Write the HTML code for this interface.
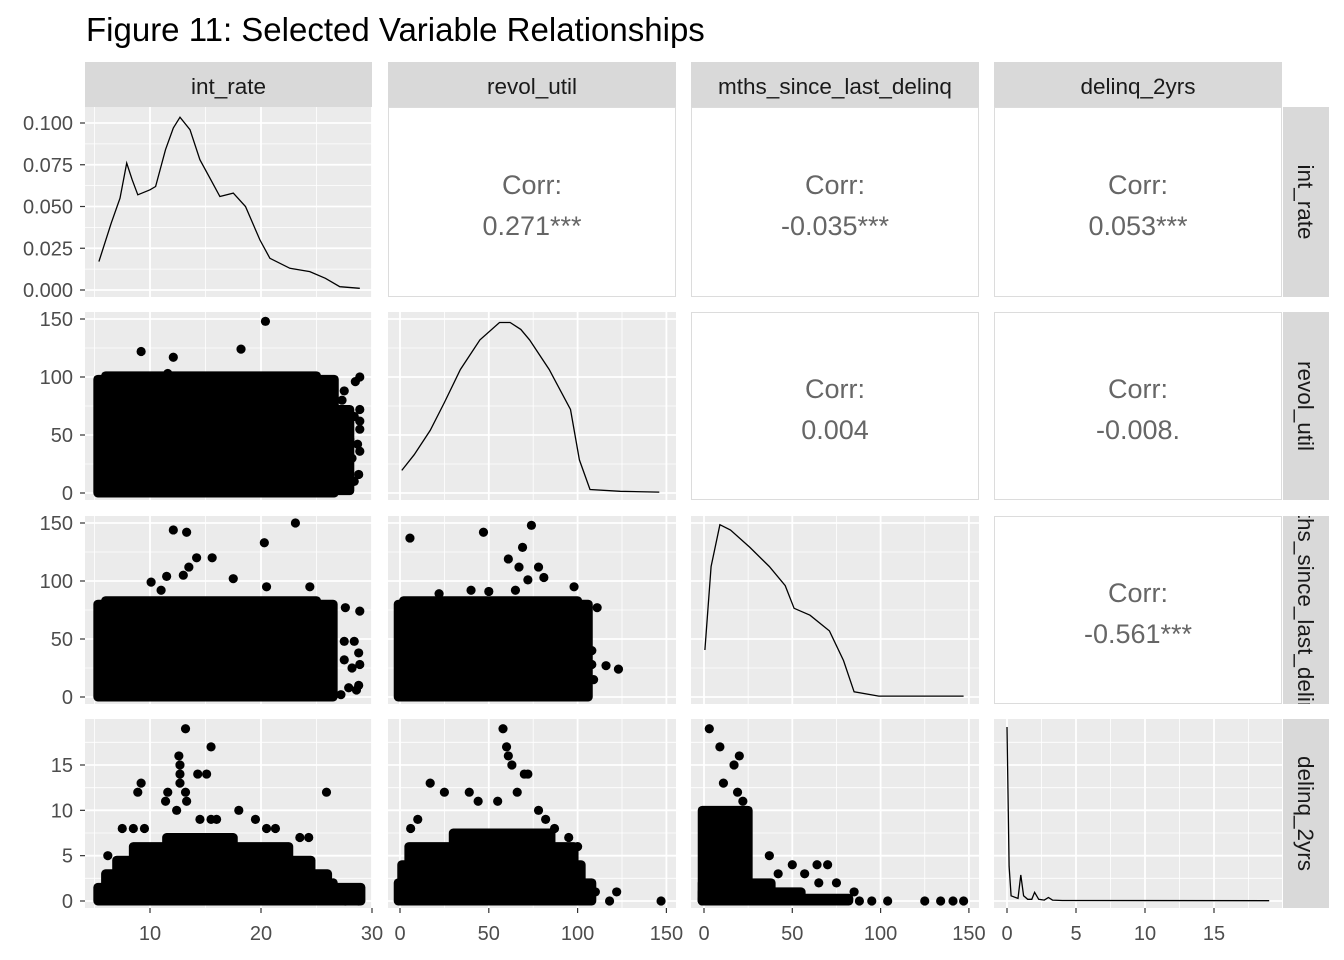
<!DOCTYPE html>
<html><head><meta charset="utf-8">
<style>
html,body{margin:0;padding:0;background:#fff;}
svg{display:block;font-family:"Liberation Sans",Arial,sans-serif;}
</style></head>
<body>
<svg id="chart" width="1344" height="960" viewBox="0 0 1344 960">
<text x="86" y="41" font-size="33" fill="#000">Figure 11: Selected Variable Relationships</text>
<defs>
<clipPath id="stripclip3"><rect x="1283" y="516" width="46" height="188"/></clipPath>
</defs>
</svg>
<script>
// ---------- data ----------
const varNames = ["int_rate","revol_util","mths_since_last_delinq","delinq_2yrs"];
const corrValues = [["0.271***","-0.035***","0.053***"],["0.004","-0.008."],["-0.561***"]];
const densIntX = [5.4,6.5,7.3,7.9,8.4,8.9,10,10.5,11.4,12.1,12.7,13.6,14.5,15.4,16.3,17.5,18.6,19.9,20.8,22.6,24.4,25.8,27.1,28.9];
const densIntY = [0.017,0.040,0.055,0.076,0.066,0.057,0.060,0.062,0.084,0.097,0.1035,0.096,0.078,0.067,0.056,0.058,0.050,0.030,0.019,0.013,0.011,0.007,0.002,0.001];
const densRevX = [1,8,17,25,34,45,56,62,68,73,84,96,101,107,124,146];
const densRevY = [13,22,36,52,71,88,98,98,94,88,71,48,19,2,1,0.5];
const densMthX = [0.5,4,9,15,26,37,46,51,60,71,79,85,99,147];
const densMthY = [27,75,99,96,86,75,64,51,47,38,21,3,0.5,0.5];
const densDelX = [0,0.15,0.3,0.8,1,1.2,1.5,1.8,2,2.3,2.7,3,3.3,4,19];
const densDelY = [100,20,3,1.5,15,3,1,1,5,1,0.5,2,0.5,0.3,0.2];
const blocks21 = [[5.3,26.6,0,98],[6,25,0,101],[26.6,28,2,72]];
const pts21 = [[9.2,122],[12.1,117],[18.2,124],[20.4,148],[11.6,103],[28.9,100],[28.5,96],[27.3,80],[27.5,88],[28.9,72],[28.9,62],[28.4,66],[28.9,55],[28,46],[28.7,42],[28.9,36],[28.2,30],[28.8,16],[28.4,10],[27.6,12],[27.2,4],[26.8,2],[27,20],[26.5,50]];
const blocks31 = [[5.3,26.5,0,80],[6,25,0,83]];
const pts31 = [[12.1,144],[13.3,142],[13,105],[14.2,120],[15.6,120],[13.5,112],[11.5,104],[20.3,133],[23.1,150],[17.5,102],[24.4,95],[20.5,95],[10.1,99],[11,92],[27.6,77],[28.9,74],[28.4,48],[27.5,48],[28.8,38],[28.9,28],[28.2,25],[27.5,32],[28.8,10],[28.6,6],[27.9,8],[27.2,2]];
const blocks41 = [[5.3,29,0,1.5],[6,26,0,3],[7,24.5,0,4.5],[8.5,22.5,0,6],[11.5,17.5,0,7]];
const pts41 = [[13.2,19],[12.6,16],[15.5,17],[12.7,15],[12.7,14],[12.7,13],[14.3,14],[15.1,14],[9.2,13],[11.6,12],[13.2,12],[8.9,12],[11.4,11],[13.3,11],[25.9,12],[12.4,10],[18,10],[19.5,9],[20.5,8],[21.3,8],[23.5,7],[24.3,7],[16,9],[15.5,9],[14.5,9],[7.5,8],[8.5,8],[9.5,8],[6.2,5],[27,1],[28.9,1],[26.5,2],[27.6,0],[28.8,0]];
const blocks32 = [[-1,106,0,80],[2,100,0,83]];
const pts32 = [[5.6,137],[47,142],[74,148],[69,129],[61,119],[67,112],[78,112],[81,103],[72,101],[22,89],[40,92],[50,91],[65,92],[111,77],[108,40],[108,28],[116,27],[123,24],[109,15],[98,95]];
const blocks42 = [[-1,108,0,2],[1,102,0,4],[5,98,0,6],[30,85,0,7.5]];
const pts42 = [[58,19],[60,17],[61,16],[63,15],[70,14],[72,14],[17,13],[25,12],[39,12],[44,11],[55,11],[66,12],[78,10],[82,9],[87,8],[95,7],[100,6],[110,1],[122,1],[147,0],[118,0],[6,8],[10,9]];
const blocks43 = [[-1,25,0,10],[-1,38,0,2],[-1,55,0,1],[-1,82,0,0.3]];
const pts43 = [[3,19],[9,17],[20,16],[17,15],[11,13],[19,12],[22,11],[37,5],[50,4],[64,4],[70,4],[65,2],[75,2],[85,1],[95,0],[104,0],[125,0],[134,0],[141,0],[147,0],[42,3],[57,3],[88,0]];

// ---------- layout ----------
const colPx = [[85,372],[388,676],[691,979],[994,1282]];
const rowPx = [[107,297],[312,500],[516,704],[719,908]];
const xScales = [
  v => 150 + (v-10)*11.1,
  v => 400 + v*1.776,
  v => 704 + v*1.766,
  v => 1007 + v*13.8
];
const yScales = [
  v => 290 - v*1670,
  v => 493 - v*1.16,
  v => 697 - v*1.16,
  v => 901 - v*9.067
];
const densScale = [ v => 290 - v*1670, v => 493 - v*1.74, v => 697 - v*1.74, v => 901 - v*1.74 ];
const xMajor = [[10,20,30],[0,50,100,150],[0,50,100,150],[0,5,10,15]];
const xMinor = [[5,15,25],[25,75,125],[25,75,125],[2.5,7.5,12.5,17.5]];
const yMajor = [[0,0.025,0.05,0.075,0.1],[0,50,100,150],[0,50,100,150],[0,5,10,15]];
const yMinor = [[0.0125,0.0375,0.0625,0.0875],[25,75,125],[25,75,125],[2.5,7.5,12.5,17.5]];
const yTickLabels = [["0.000","0.025","0.050","0.075","0.100"],["0","50","100","150"],["0","50","100","150"],["0","5","10","15"]];
const xTickLabels = [["10","20","30"],["0","50","100","150"],["0","50","100","150"],["0","5","10","15"]];

const NS = "http://www.w3.org/2000/svg";
const svg = document.getElementById("chart");
function mk(tag, attrs, parent){ const e=document.createElementNS(NS,tag); for(const k in attrs) e.setAttribute(k,attrs[k]); (parent||svg).appendChild(e); return e; }

for(let c=0;c<4;c++){
  const g = mk("g",{});
  
  
  mk("rect",{x:colPx[c][0],y:62,width:colPx[c][1]-colPx[c][0],height:45,fill:"#d9d9d9"},g);
  const t = mk("text",{x:(colPx[c][0]+colPx[c][1])/2,y:94,"font-size":22.5,fill:"#1a1a1a","text-anchor":"middle"},g);
  t.textContent = varNames[c];
}
for(let r=0;r<4;r++){
  const g = mk("g",{});
  
  
  if(r===2) g.setAttribute("clip-path","url(#stripclip3)");
  mk("rect",{x:1283,y:rowPx[r][0],width:46,height:rowPx[r][1]-rowPx[r][0],fill:"#d9d9d9"},g);
  const cy=(rowPx[r][0]+rowPx[r][1])/2;
  const t = mk("text",{x:1298,y:cy,"font-size":22.5,fill:"#1a1a1a","text-anchor":"middle",transform:`rotate(90 1298 ${cy})`},g);
  t.textContent = varNames[r];
}

function drawPanelBg(r,c){
  const [x0,x1]=colPx[c],[y0,y1]=rowPx[r];
  const g = mk("g",{});
  
  
  mk("rect",{x:x0,y:y0,width:x1-x0,height:y1-y0,fill:"#ebebeb"},g);
  xMinor[c].forEach(v=>{const x=xScales[c](v); if(x>x0&&x<x1) mk("line",{x1:x,x2:x,y1:y0,y2:y1,stroke:"#fff","stroke-width":0.8},g);});
  yMinor[r].forEach(v=>{const y=yScales[r](v); if(y>y0&&y<y1) mk("line",{x1:x0,x2:x1,y1:y,y2:y,stroke:"#fff","stroke-width":0.8},g);});
  xMajor[c].forEach(v=>{const x=xScales[c](v); if(x>=x0&&x<=x1) mk("line",{x1:x,x2:x,y1:y0,y2:y1,stroke:"#fff","stroke-width":1.8},g);});
  yMajor[r].forEach(v=>{const y=yScales[r](v); if(y>=y0&&y<=y1) mk("line",{x1:x0,x2:x1,y1:y,y2:y,stroke:"#fff","stroke-width":1.8},g);});
}
function drawDensity(r,c,xs,ys,name){
  drawPanelBg(r,c);
  const d = xs.map((x,i)=>(i?"L":"M")+xScales[c](x).toFixed(1)+","+densScale[r](ys[i]).toFixed(1)).join(" ");
  const p = mk("path",{d:d,fill:"none",stroke:"#000","stroke-width":1.3});
  
  
}
function drawScatter(r,c,blocks,pts,name){
  drawPanelBg(r,c);
  const g = mk("g",{});
  
  
  blocks.forEach(b=>{
    const x0=xScales[c](b[0]),x1=xScales[c](b[1]),y0=yScales[r](b[3]),y1=yScales[r](b[2]);
    const rr = mk("rect",{x:x0-4.5,y:y0-4.5,width:x1-x0+9,height:y1-y0+9,rx:4.5,fill:"#000"},g);
    
    
  });
  pts.forEach(p=>{
    const ci = mk("circle",{cx:xScales[c](p[0]),cy:yScales[r](p[1]),r:4.6,fill:"#000"},g);
    
    
  });
}
function drawCorr(r,c,val){
  const [x0,x1]=colPx[c],[y0,y1]=rowPx[r];
  const g = mk("g",{});
  
  
  mk("rect",{x:x0+0.5,y:y0+0.5,width:x1-x0-1,height:y1-y0-1,fill:"#fff",stroke:"#dcdcdc","stroke-width":1},g);
  const cx=(x0+x1)/2, cy=(y0+y1)/2;
  const t1 = mk("text",{x:cx,y:cy-8,"font-size":27,fill:"#666","text-anchor":"middle"},g); t1.textContent="Corr:";
  const t2 = mk("text",{x:cx,y:cy+33,"font-size":27,fill:"#666","text-anchor":"middle"},g); t2.textContent=val;
}

drawDensity(0,0,densIntX,densIntY,'density-int-rate');
drawDensity(1,1,densRevX,densRevY,'density-revol-util');
drawDensity(2,2,densMthX,densMthY,'density-mths-since-last-delinq');
drawDensity(3,3,densDelX,densDelY,'density-delinq-2yrs');
drawScatter(1,0,blocks21,pts21,'scatter-revol-vs-int');
drawScatter(2,0,blocks31,pts31,'scatter-mths-vs-int');
drawScatter(3,0,blocks41,pts41,'scatter-delinq-vs-int');
drawScatter(2,1,blocks32,pts32,'scatter-mths-vs-revol');
drawScatter(3,1,blocks42,pts42,'scatter-delinq-vs-revol');
drawScatter(3,2,blocks43,pts43,'scatter-delinq-vs-mths');
drawCorr(0,1,corrValues[0][0]); drawCorr(0,2,corrValues[0][1]); drawCorr(0,3,corrValues[0][2]);
drawCorr(1,2,corrValues[1][0]); drawCorr(1,3,corrValues[1][1]);
drawCorr(2,3,corrValues[2][0]);

for(let r=0;r<4;r++){
  yMajor[r].forEach((v,i)=>{
    const y=yScales[r](v);
    mk("line",{x1:80,x2:85,y1:y,y2:y,stroke:"#333","stroke-width":1.2});
    const t = mk("text",{x:73,y:y+7,"font-size":20,fill:"#4d4d4d","text-anchor":"end"});
    
    
    t.textContent = yTickLabels[r][i];
  });
}
for(let c=0;c<4;c++){
  xMajor[c].forEach((v,i)=>{
    const x=xScales[c](v);
    mk("line",{x1:x,x2:x,y1:908,y2:913,stroke:"#333","stroke-width":1.2});
    const t = mk("text",{x:x,y:940,"font-size":20,fill:"#4d4d4d","text-anchor":"middle"});
    
    
    t.textContent = xTickLabels[c][i];
  });
}
</script>
</body></html>
